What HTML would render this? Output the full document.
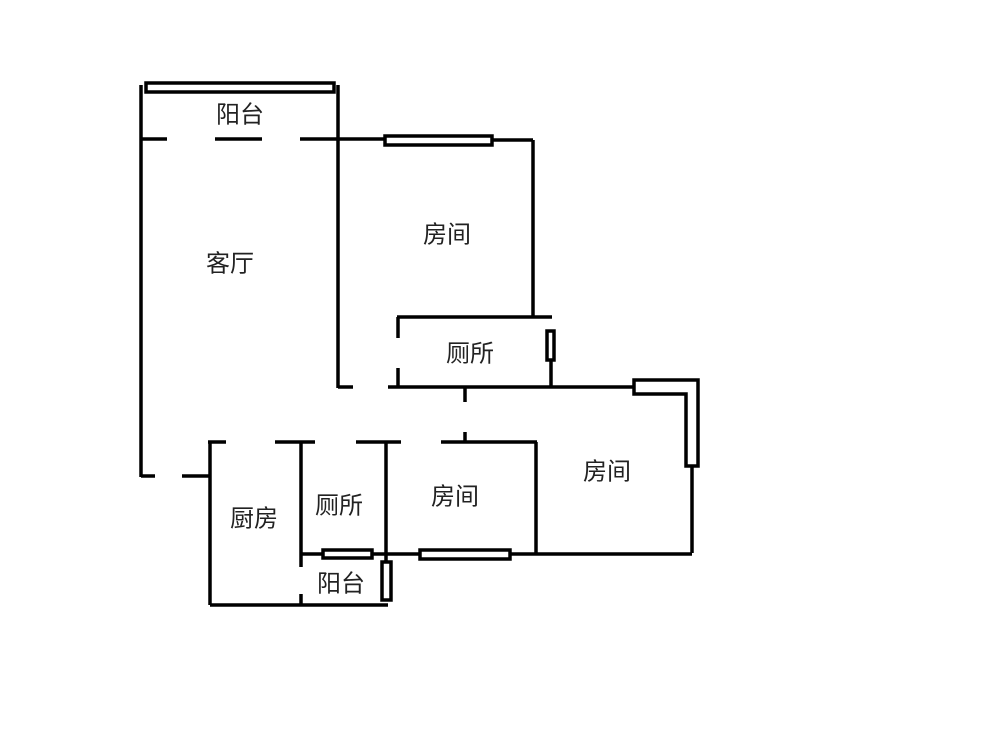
<!DOCTYPE html>
<html><head><meta charset="utf-8"><style>
html,body{margin:0;padding:0;background:#fff;}
svg{display:block}
text{font-family:"Liberation Sans","Noto Sans CJK SC",sans-serif;font-size:24px;fill:#222;text-anchor:middle;dominant-baseline:central}
</style></head><body>
<svg width="1000" height="756" viewBox="0 0 1000 756" xmlns="http://www.w3.org/2000/svg">
<g stroke="#000" stroke-width="3.5" fill="none">
<rect x="146" y="83" width="188" height="9"/>
<line x1="141" y1="85" x2="141" y2="477"/>
<line x1="338" y1="85" x2="338" y2="388"/>
<line x1="141" y1="139" x2="167" y2="139"/>
<line x1="215" y1="139" x2="262" y2="139"/>
<line x1="300" y1="139" x2="385" y2="139"/>
<rect x="385" y="136" width="107" height="9"/>
<line x1="492" y1="140" x2="533" y2="140"/>
<line x1="533" y1="140" x2="533" y2="317"/>
<line x1="397" y1="317" x2="552" y2="317"/>
<line x1="398" y1="317" x2="398" y2="338"/>
<line x1="398" y1="368" x2="398" y2="388"/>
<rect x="547" y="331" width="7" height="29"/>
<line x1="551" y1="360" x2="551" y2="388"/>
<line x1="338" y1="387" x2="353" y2="387"/>
<line x1="388" y1="387" x2="634" y2="387"/>
<line x1="465" y1="387" x2="465" y2="402"/>
<line x1="465" y1="432" x2="465" y2="442"/>
<path d="M634 380 H698 V466 H686 V394 H634 Z"/>
<line x1="692" y1="466" x2="692" y2="553"/>
<line x1="141" y1="476" x2="155" y2="476"/>
<line x1="182" y1="476" x2="210" y2="476"/>
<line x1="208" y1="442" x2="226" y2="442"/>
<line x1="275" y1="442" x2="315" y2="442"/>
<line x1="356" y1="442" x2="401" y2="442"/>
<line x1="441" y1="442" x2="537" y2="442"/>
<line x1="210" y1="442" x2="210" y2="605"/>
<line x1="210" y1="605" x2="388" y2="605"/>
<line x1="301" y1="442" x2="301" y2="567"/>
<line x1="301" y1="594" x2="301" y2="605"/>
<line x1="386" y1="442" x2="386" y2="562"/>
<rect x="382" y="562" width="9" height="38"/>
<line x1="536" y1="442" x2="536" y2="554"/>
<line x1="301" y1="554" x2="323" y2="554"/>
<rect x="323" y="550" width="49" height="8"/>
<line x1="372" y1="554" x2="420" y2="554"/>
<rect x="420" y="550" width="90" height="9"/>
<line x1="510" y1="554" x2="692" y2="554"/>
</g>
<text x="240" y="115">阳台</text>
<text x="230" y="264">客厅</text>
<text x="447" y="235">房间</text>
<text x="470" y="354">厕所</text>
<text x="607" y="472">房间</text>
<text x="455" y="497">房间</text>
<text x="339" y="506">厕所</text>
<text x="254" y="519">厨房</text>
<text x="341" y="584">阳台</text>
</svg>
</body></html>
